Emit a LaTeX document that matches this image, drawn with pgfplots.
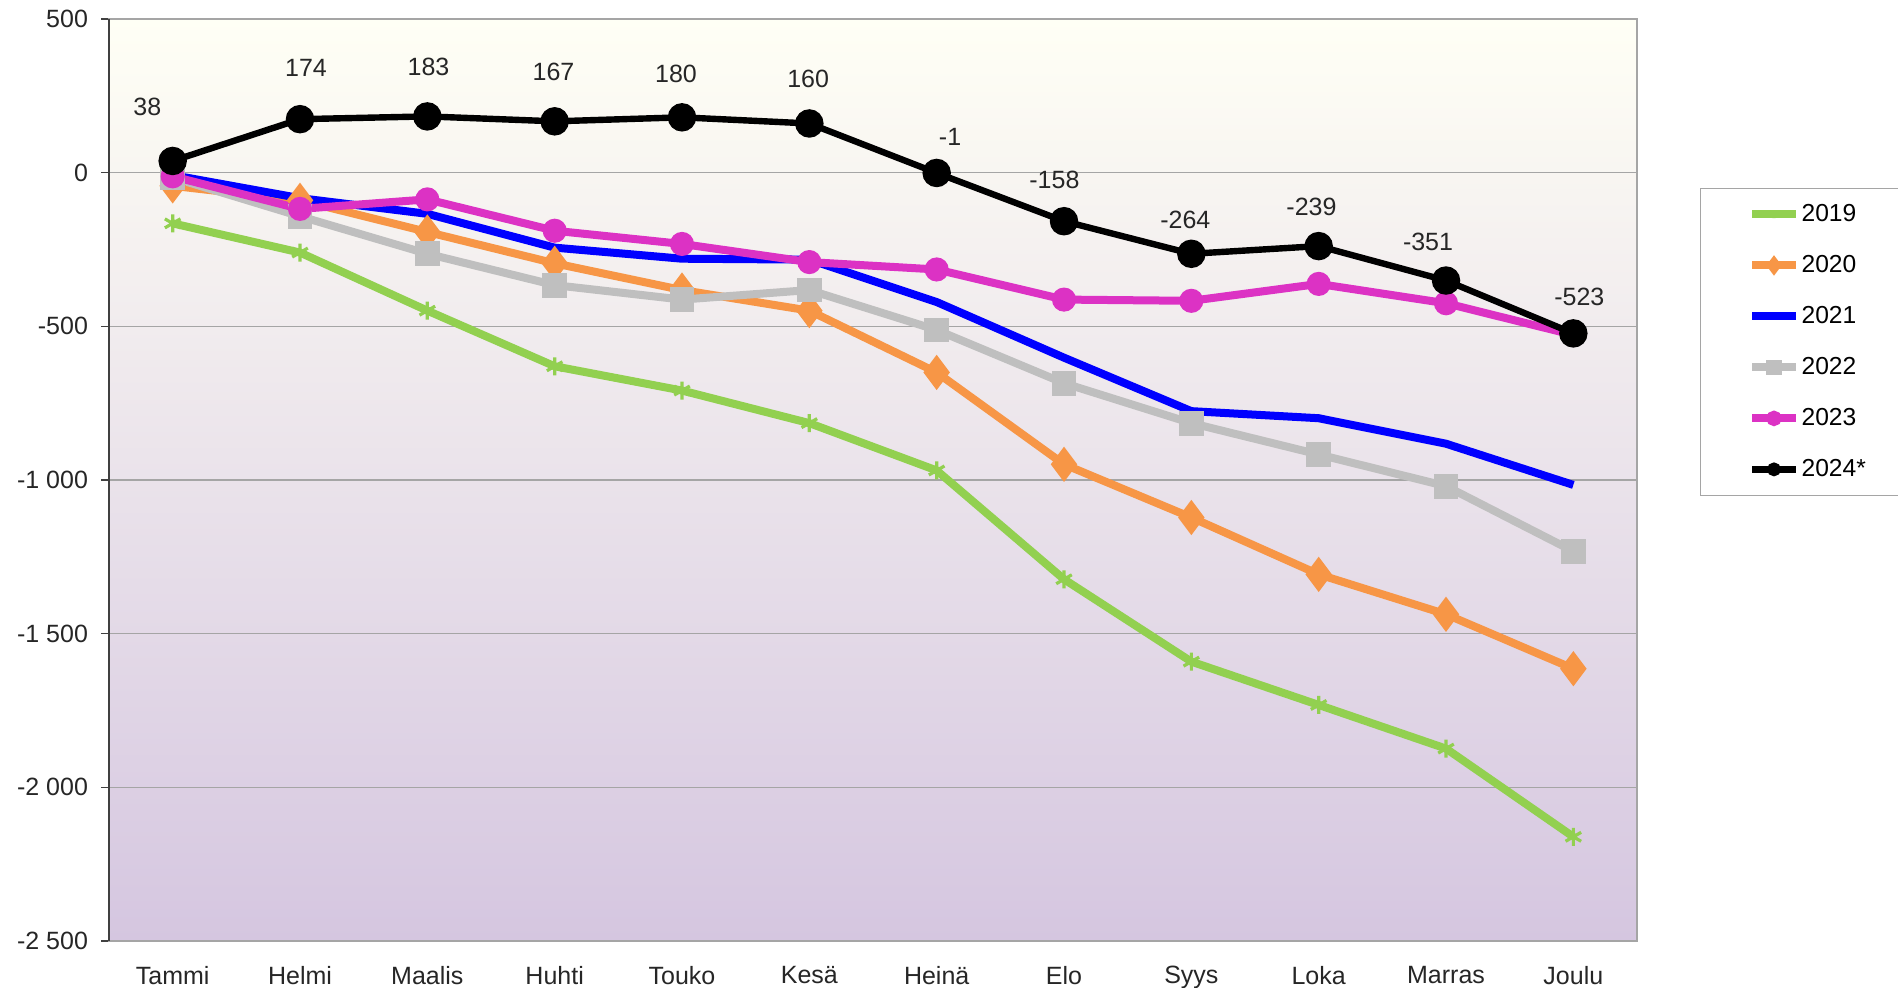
\documentclass[border=0pt]{standalone}
\usepackage{pgfplots}
\pgfplotsset{compat=1.18}
\usepackage{pgfplotstable}
\usepackage{fontspec}
\setmainfont{Liberation Sans}
\definecolor{cGreen}{RGB}{146,208,80}
\definecolor{cOrange}{RGB}{247,150,70}
\definecolor{cBlue}{RGB}{0,0,255}
\definecolor{cGray}{RGB}{191,191,191}
\definecolor{cMag}{RGB}{220,50,196}
\definecolor{bgTop}{RGB}{255,255,245}
\definecolor{bgBot}{RGB}{213,198,224}
\definecolor{gridc}{RGB}{165,165,165}

\pgfplotstableread{
x y2019 y2020 y2021 y2022 y2023
0 -165 -43 -8 -16 -12
1 -260 -90 -83 -142 -118
2 -449 -193 -134 -264 -87
3 -630 -295 -244 -366 -189
4 -709 -382 -280 -413 -232
5 -815 -449 -283 -382 -291
6 -969 -650 -421 -512 -315
7 -1323 -949 -602 -685 -413
8 -1591 -1122 -776 -815 -417
9 -1732 -1307 -799 -917 -362
10 -1874 -1437 -882 -1020 -425
11 -2161 -1614 -1016 -1232 -528
}\tabmain

\pgfplotstableread{
x y lab dx dy
0 38 38 -12.7 27.2
1 174 174 3.0 25.4
2 183 183 0.6 24.8
3 167 167 -0.6 24.8
4 180 180 -3.0 21.8
5 160 160 -0.6 22.4
6 -1 -1 6.7 18.2
7 -158 -158 -4.8 20.6
8 -264 -264 -3.0 17.0
9 -239 -239 -3.6 19.4
10 -351 -351 -9.0 19.4
11 -523 -523 3.0 18.2
}\tabblack

\newcommand{\legtxt}[1]{\makebox[70pt][l]{#1}}

\begin{document}
\begin{tikzpicture}
\useasboundingbox (0,0) rectangle (949pt,494pt);
\begin{axis}[
  at={(54.5pt,23.5pt)}, anchor=south west,
  scale only axis, width=764pt, height=461pt,
  xmin=-0.5, xmax=11.5, ymin=-2500, ymax=500,
  xtick={0,...,11},
  xticklabels={Tammi,Helmi,Maalis,Huhti,Touko,Kesä,Heinä,Elo,Syys,Loka,Marras,Joulu},
  ytick={-2500,-2000,-1500,-1000,-500,0,500},
  yticklabels={-2 500,-2 000,-1 500,-1 000,-500,0,500},
  ticklabel style={font=\fontsize{12.5}{14}\selectfont, text=black!85},
  xtick style={draw=none},
  ytick pos=left, tick align=outside, major tick length=4pt,
  ytick style={draw=black!75, line width=0.8pt},
  yticklabel style={xshift=-3pt},
  xticklabel style={yshift=-5pt},
  ymajorgrids, major grid style={draw=gridc, line width=0.7pt},
  axis line style={draw=gridc, line width=0.7pt},
  axis background/.style={shade, top color=bgTop, bottom color=bgBot},
  legend style={at={(1.0412,0.8167)}, anchor=north west, draw=gridc, fill=white,
    font=\fontsize{12.3}{14}\selectfont, row sep=11.4pt, inner xsep=24pt, inner ysep=6pt,
    cells={anchor=west}, nodes={inner xsep=1pt}},
  legend image code/.code={\draw[mark repeat=2,mark phase=2,mark size=1.8pt] plot coordinates {(0cm,0cm) (0.38cm,0cm) (0.76cm,0cm)};},
  clip=false,
]
\addplot[color=cGreen, line width=4pt, mark=asterisk, mark size=4.5pt, mark options={line width=1.6pt}] table[x=x,y=y2019]{\tabmain};
\addlegendentry{\legtxt{2019}}
\addplot[color=cOrange, line width=4pt, mark=diamond*, mark size=5.5pt] table[x=x,y=y2020]{\tabmain};
\addlegendentry{\legtxt{2020}}
\addplot[color=cBlue, line width=4pt, mark=none] table[x=x,y=y2021]{\tabmain};
\addlegendentry{\legtxt{2021}}
\addplot[color=cGray, line width=4pt, mark=square*, mark size=4.2pt] table[x=x,y=y2022]{\tabmain};
\addlegendentry{\legtxt{2022}}
\addplot[color=cMag, line width=4pt, mark=*, mark size=4pt] table[x=x,y=y2023]{\tabmain};
\addlegendentry{\legtxt{2023}}
\addplot[color=black, line width=3.2pt, mark=*, mark size=5.5pt,
  point meta=explicit symbolic,
  visualization depends on={\thisrow{dx} \as \dx},
  visualization depends on={\thisrow{dy} \as \dy},
  nodes near coords,
  every node near coord/.append style={anchor=center, xshift={\dx}, yshift={\dy},
    font=\fontsize{12.5}{14}\selectfont, text=black!85, inner sep=0pt}]
  table[x=x,y=y,meta=lab]{\tabblack};
\addlegendentry{\legtxt{2024*}}
\draw[black!75, line width=1pt] (rel axis cs:0,0) -- (rel axis cs:0,1);
\end{axis}
\end{tikzpicture}
\end{document}
